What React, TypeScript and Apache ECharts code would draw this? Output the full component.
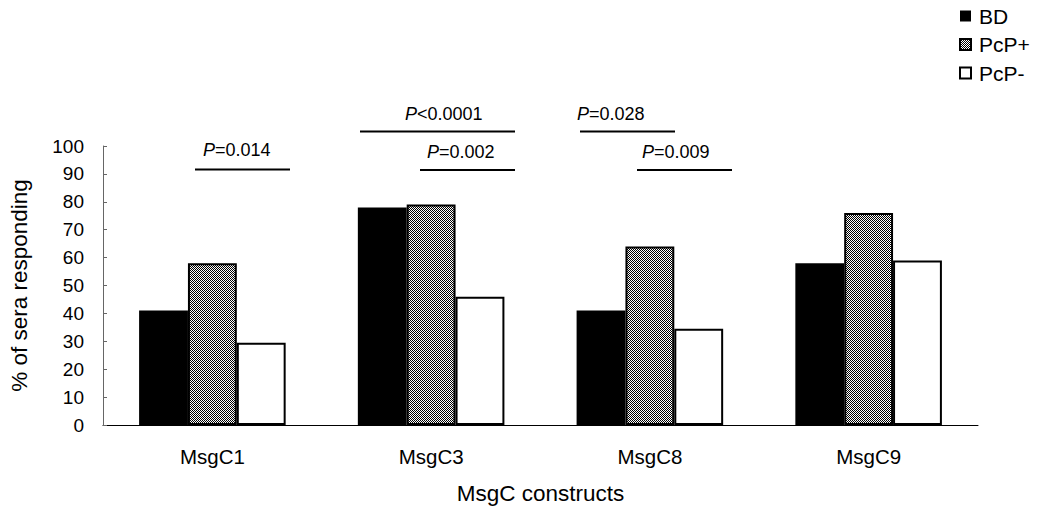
import React, { useEffect, useRef } from "react";
import * as echarts from "echarts";

const categories = ["MsgC1", "MsgC3", "MsgC8", "MsgC9"];
const seriesNames = ["BD", "PcP+", "PcP-"];
const bdValues = [41, 78, 41, 58];
const pcpPlusValues = [58, 79, 64, 76];
const pcpMinusValues = [29.5, 46, 34.5, 59];
const yTicks = { min: 0, max: 100, interval: 10 };

// annotation texts (P values)
const annotationTexts = ["0.014", "<0.0001", "0.002", "0.028", "0.009"];

const FONT = "'Liberation Sans', Arial, Helvetica, sans-serif";

export default function App() {
  const ref = useRef<HTMLDivElement>(null);
  useEffect(() => {
    if (!ref.current) return;
    const chart = echarts.init(ref.current, null, { renderer: "svg" });

    const cv = document.createElement("canvas");
    cv.width = 2;
    cv.height = 2;
    const ctx = cv.getContext("2d")!;
    ctx.fillStyle = "#ffffff";
    ctx.fillRect(0, 0, 2, 2);
    ctx.fillStyle = "#000000";
    ctx.fillRect(0, 0, 1, 1);
    ctx.fillRect(1, 1, 1, 1);
    const checker: any = { image: cv, repeat: "repeat" };

    // layout of annotations: [textLeft, textY, lineX1, lineX2, lineY]
    const annLayout = [
      [203, 151, 195, 290, 169.5],
      [405, 115, 360, 515, 131.5],
      [427, 152.5, 420, 515, 170],
      [577, 115, 580, 675, 131.5],
      [642, 152.5, 637, 732, 170],
    ];
    const graphics: any[] = [];
    annotationTexts.forEach((t, i) => {
      const [tx, ty, x1, x2, ly] = annLayout[i];
      const op = t.startsWith("<") ? "" : "=";
      graphics.push({
        type: "text",
        left: tx,
        top: ty - 10,
        style: {
          text: "{i|P}" + op + t,
          font: `18px ${FONT}`,
          fill: "#000",
          rich: {
            i: { fontStyle: "italic", fontSize: 18, fontFamily: FONT, fill: "#000" },
          },
        },
      });
      graphics.push({
        type: "line",
        shape: { x1, y1: ly, x2, y2: ly },
        style: { stroke: "#000", lineWidth: 2 },
      });
    });

    const values = [bdValues, pcpPlusValues, pcpMinusValues];
    const styles = [
      { color: "#000", borderColor: "#000", borderWidth: 0 },
      { color: checker, borderColor: "#000", borderWidth: 2 },
      { color: "#fff", borderColor: "#000", borderWidth: 2 },
    ];

    chart.setOption({
      animation: false,
      textStyle: { fontFamily: FONT },
      grid: { left: 102, right: 60, top: 146, bottom: 81, containLabel: false },
      legend: {
        orient: "vertical",
        left: 954,
        top: 0,
        padding: [4, 5, 5, 5],
        itemWidth: 11,
        itemHeight: 11,
        itemGap: 4.5,
        icon: "rect",
        textStyle: {
          fontSize: 21,
          lineHeight: 24,
          color: "#000",
          fontFamily: FONT,
          padding: [0, 0, 0, 3],
        },
        data: seriesNames,
      },
      xAxis: {
        type: "category",
        data: categories,
        axisTick: { show: false },
        axisLine: { lineStyle: { color: "#000", width: 1 } },
        axisLabel: { fontSize: 20.5, color: "#000", margin: 21 },
        name: "MsgC constructs",
        nameLocation: "middle",
        nameGap: 57,
        nameTextStyle: { fontSize: 22.5, color: "#000" },
      },
      yAxis: {
        type: "value",
        min: yTicks.min,
        max: yTicks.max,
        interval: yTicks.interval,
        splitLine: { show: false },
        axisLine: { show: true, lineStyle: { color: "#666", width: 1 } },
        axisTick: { show: true, inside: true, length: 4, lineStyle: { color: "#666" } },
        axisLabel: { fontSize: 19, color: "#000", margin: 19 },
        name: "% of sera responding",
        nameLocation: "middle",
        nameGap: 72,
        nameRotate: 90,
        nameTextStyle: { fontSize: 22.5, color: "#000" },
      },
      series: seriesNames.map((n, i) => ({
        name: n,
        type: "bar",
        data: values[i],
        barGap: "0%",
        barCategoryGap: "33%",
        itemStyle: styles[i],
      })),
      graphic: graphics,
    });
    return () => chart.dispose();
  }, []);
  return (
    <div
      ref={ref}
      style={{ position: "fixed", left: 0, top: 0, width: 1038, height: 510, background: "#fff" }}
    />
  );
}
